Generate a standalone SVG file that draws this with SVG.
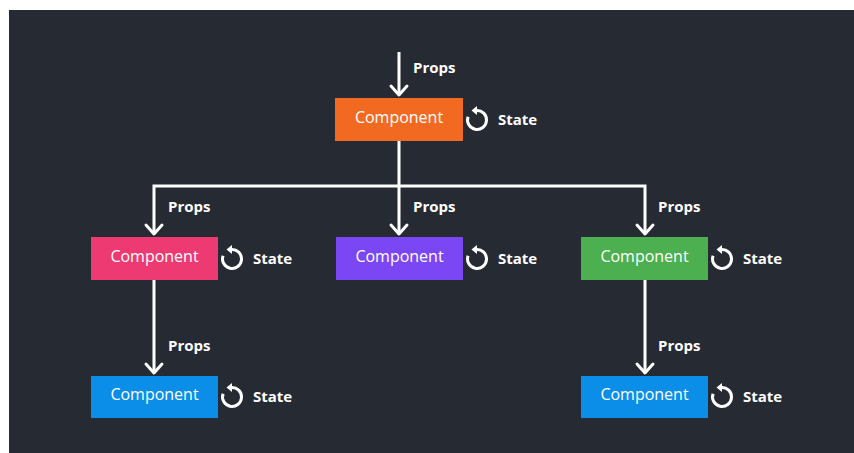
<svg xmlns="http://www.w3.org/2000/svg" width="854" height="453" viewBox="0 0 854 453">
  <style>
    .wire { fill: none; stroke: #ffffff; stroke-width: 3; stroke-linecap: butt; stroke-linejoin: miter; }
    .head { fill: none; stroke: #ffffff; stroke-width: 3; stroke-linecap: round; stroke-linejoin: round; }
    .lbl { font-family: "Open Sans", "Liberation Sans", sans-serif; font-weight: 700; font-size: 15px; fill: #ffffff; }
    .cname { font-family: "Open Sans", "Liberation Sans", sans-serif; font-size: 16px; fill: #ffffff; text-anchor: middle; }
    .cycle { fill: none; stroke: #ffffff; stroke-width: 3; stroke-linecap: butt; }
  </style>
  <defs>
    <!-- state icon: anticlockwise loop arrow -->
    <g id="loop">
      <path class="cycle" d="M -0.8 -9.5 A 9.5 9.5 0 1 1 -8.9 -3.3"/>
      <path d="M -5.5 -9.5 L 0 -14 L 0 -5 Z" fill="#ffffff"/>
    </g>
  </defs>

  <rect x="0" y="0" width="854" height="453" fill="#ffffff"/>
  <rect x="9" y="10" width="845" height="443" fill="#262a33"/>

  <g id="connectors">
    <!-- incoming props to root -->
    <path class="wire" d="M 399 52 V 95"/>
    <path class="head" d="M 391 86 L 399 95 L 407 86"/>
    <!-- root fan-out -->
    <path class="wire" d="M 399 141 V 186 M 154 186 H 645 M 154 184.5 V 234 M 399 186 V 234 M 645 184.5 V 234"/>
    <path class="head" d="M 146 225 L 154 234 L 162 225"/>
    <path class="head" d="M 391 225 L 399 234 L 407 225"/>
    <path class="head" d="M 637 225 L 645 234 L 653 225"/>
    <!-- second level to leaves -->
    <path class="wire" d="M 154 280 V 373 M 645 280 V 373"/>
    <path class="head" d="M 146 364 L 154 373 L 162 364"/>
    <path class="head" d="M 637 364 L 645 373 L 653 364"/>
    <text class="lbl" x="413" y="73">Props</text>
    <text class="lbl" x="168" y="212">Props</text>
    <text class="lbl" x="413" y="212">Props</text>
    <text class="lbl" x="658" y="212">Props</text>
    <text class="lbl" x="168" y="351">Props</text>
    <text class="lbl" x="658" y="351">Props</text>
  </g>

  <g id="root">
    <rect x="335" y="98" width="128" height="43" fill="#f26a21"/>
    <text class="cname" x="399" y="123">Component</text>
    <use href="#loop" x="477" y="120"/>
    <text class="lbl" x="498" y="125">State</text>
  </g>

  <g id="child-left">
    <rect x="91" y="237" width="127" height="43" fill="#ed3a72"/>
    <text class="cname" x="154.5" y="262">Component</text>
    <use href="#loop" x="232" y="259"/>
    <text class="lbl" x="253" y="264">State</text>
  </g>

  <g id="child-middle">
    <rect x="336" y="237" width="127" height="43" fill="#7b47f5"/>
    <text class="cname" x="399.5" y="262">Component</text>
    <use href="#loop" x="477" y="259"/>
    <text class="lbl" x="498" y="264">State</text>
  </g>

  <g id="child-right">
    <rect x="581" y="237" width="127" height="43" fill="#4caf50"/>
    <text class="cname" x="644.5" y="262">Component</text>
    <use href="#loop" x="722" y="259"/>
    <text class="lbl" x="743" y="264">State</text>
  </g>

  <g id="leaf-left">
    <rect x="91" y="376" width="127" height="42" fill="#0a8ee8"/>
    <text class="cname" x="154.5" y="400">Component</text>
    <use href="#loop" x="232" y="397"/>
    <text class="lbl" x="253" y="402">State</text>
  </g>

  <g id="leaf-right">
    <rect x="581" y="376" width="127" height="42" fill="#0a8ee8"/>
    <text class="cname" x="644.5" y="400">Component</text>
    <use href="#loop" x="722" y="397"/>
    <text class="lbl" x="743" y="402">State</text>
  </g>
</svg>
